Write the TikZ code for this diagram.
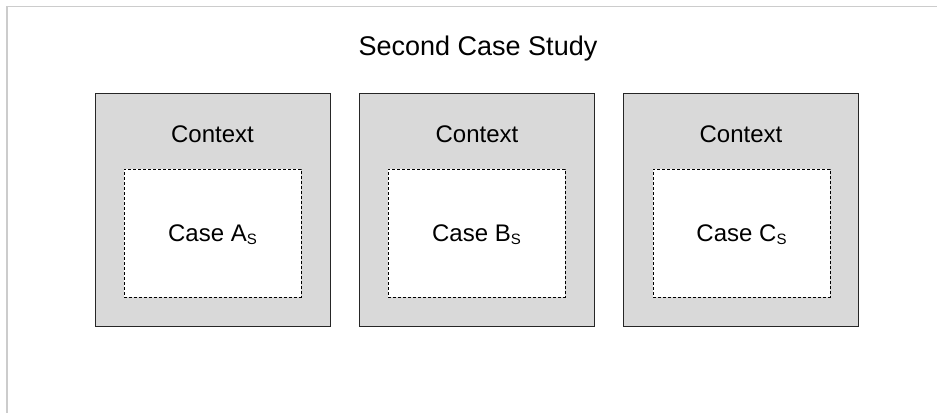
\documentclass[tikz,border=0pt]{standalone}
\usepackage{fontspec}
\setmainfont{Liberation Sans}
\definecolor{ctxgray}{RGB}{217,217,217}
\definecolor{framegray}{RGB}{204,204,204}
\begin{document}
\begin{tikzpicture}[x=1bp,y=-1bp,
  ctxbox/.style={draw=black!85,line width=0.9bp,fill=ctxgray,minimum width=235bp,minimum height=233bp,inner sep=0pt},
  casebox/.style={draw=black,line width=0.8bp,dash pattern=on 3bp off 2bp,fill=white,minimum width=177bp,minimum height=128bp,inner sep=0pt},
  ctxlabel/.style={anchor=base,inner sep=0pt,font=\fontsize{24bp}{28bp}\selectfont},
  titlelabel/.style={anchor=base,inner sep=0pt,font=\fontsize{27bp}{32bp}\selectfont}]
\newcommand{\subS}{{\fontsize{15bp}{15bp}\selectfont\raisebox{-3.5bp}{S}}}
\useasboundingbox (0,0) rectangle (937,412);
\coordinate (fbl) at (7,413);
\coordinate (ftr) at (938,6.5);
\draw[framegray,line width=1.2bp] (fbl) |- (ftr);
\node[titlelabel] (title) at (478,55) {Second Case Study};
\node[ctxbox] (ctxA) at (212.5,209.5) {};
\node[ctxbox] (ctxB) at (477,209.5) {};
\node[ctxbox] (ctxC) at (741,209.5) {};
\node[casebox] (caseA) at (212.5,233) {};
\node[casebox] (caseB) at (476.5,233) {};
\node[casebox] (caseC) at (741.5,233) {};
\node[ctxlabel] (labA) at (212.5,142) {Context};
\node[ctxlabel] (labB) at (477,142) {Context};
\node[ctxlabel] (labC) at (741,142) {Context};
\node[ctxlabel] (txtA) at (212.5,241) {Case A\subS};
\node[ctxlabel] (txtB) at (476.5,241) {Case B\subS};
\node[ctxlabel] (txtC) at (741.5,241) {Case C\subS};
\end{tikzpicture}
\end{document}
